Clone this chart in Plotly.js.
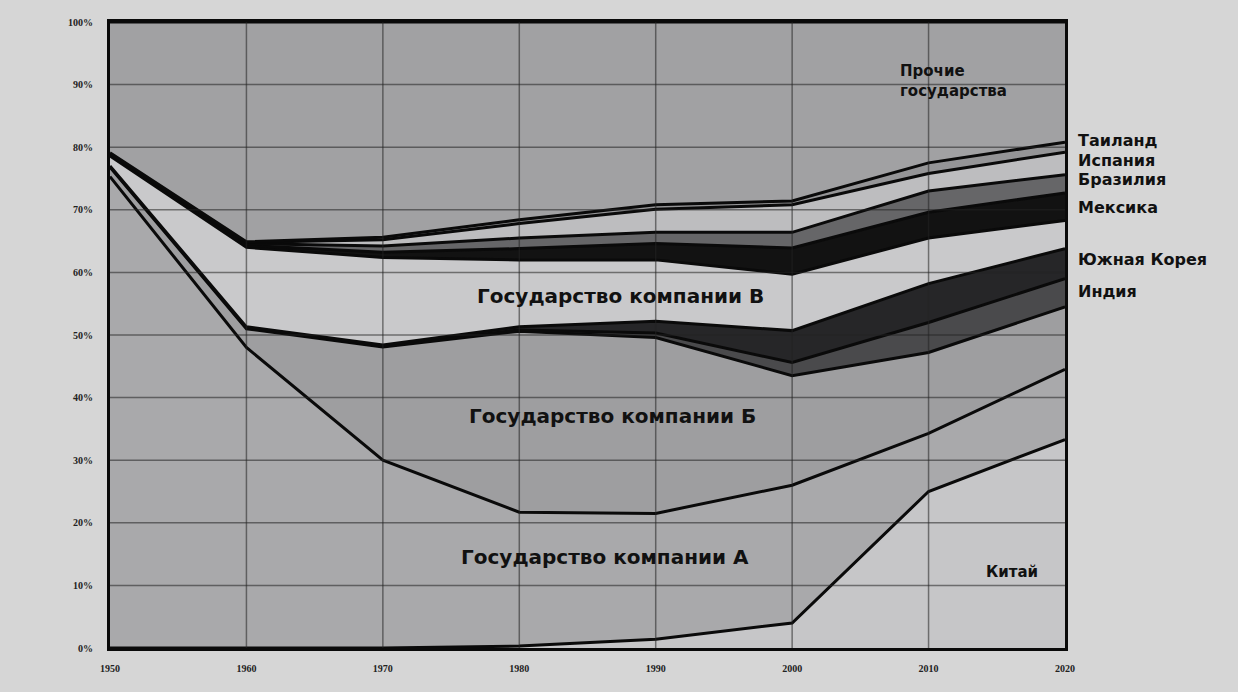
<!DOCTYPE html>
<html>
<head>
<meta charset="utf-8">
<script src="https://cdn.plot.ly/plotly-3.0.1.min.js"></script>
<style>
html,body{margin:0;padding:0;background:#d6d6d6;}
#chart{width:1238px;height:692px;}
</style>
</head>
<body>
<div id="chart"></div>
<script>
// Years (x axis)
const years = [1950, 1960, 1970, 1980, 1990, 2000, 2010, 2020];

// Shares (%) of each band, bottom to top
const china    = [0, 0, 0, 0.3, 1.4, 4.0, 25.0, 33.3];
const stateA   = [75.3, 48.0, 30.0, 21.4, 20.1, 22.0, 9.3, 11.2];
const stateB   = [1.5, 3.0, 18.1, 28.9, 28.1, 17.5, 12.9, 10.0];
const india    = [0.2, 0.2, 0.1, 0.2, 0.7, 2.1, 4.8, 4.5];
const korea    = [0, 0.1, 0.2, 0.5, 1.9, 5.1, 6.2, 4.8];
const stateV   = [1.6, 12.7, 14.0, 10.7, 9.8, 9.0, 7.3, 4.5];
const mexico   = [0.2, 0.3, 0.8, 1.8, 2.6, 4.2, 4.1, 4.4];
const brazil   = [0.1, 0.3, 1.0, 1.7, 1.8, 2.5, 3.4, 2.9];
const spain    = [0.1, 0.2, 1.0, 2.3, 3.7, 4.4, 2.8, 3.6];
const thailand = [0.1, 0.1, 0.4, 0.6, 0.7, 0.6, 1.7, 1.6];
const others   = [20.9, 35.1, 34.4, 31.6, 29.2, 28.6, 22.5, 19.2];

// Tick labels
const yTicks = [0, 10, 20, 30, 40, 50, 60, 70, 80, 90, 100];
const yTickText = ['0%', '10%', '20%', '30%', '40%', '50%', '60%', '70%', '80%', '90%', '100%'];
const xTickText = ['1950', '1960', '1970', '1980', '1990', '2000', '2010', '2020'];

const series = [
  {name: 'Китай', y: china, color: '#c6c6c8'},
  {name: 'Государство компании А', y: stateA, color: '#a9a9ab'},
  {name: 'Государство компании Б', y: stateB, color: '#9e9ea0'},
  {name: 'Индия', y: india, color: '#4a4a4c'},
  {name: 'Южная Корея', y: korea, color: '#262628'},
  {name: 'Государство компании В', y: stateV, color: '#c9c9cb'},
  {name: 'Мексика', y: mexico, color: '#121212'},
  {name: 'Бразилия', y: brazil, color: '#666668'},
  {name: 'Испания', y: spain, color: '#bdbdbf'},
  {name: 'Таиланд', y: thailand, color: '#959597'},
  {name: 'Прочие государства', y: others, color: '#a1a1a3'}
];

const traces = series.map(s => ({
  type: 'scatter',
  mode: 'lines',
  x: years,
  y: s.y,
  name: s.name,
  stackgroup: 'one',
  fillcolor: s.color,
  line: {color: '#0a0a0a', width: 3, shape: 'linear'},
  hoverinfo: 'skip'
}));

// gridlines drawn above the fills, positioned through the axis scales
const shapes = [];
years.slice(1, -1).forEach(v => shapes.push({
  type: 'line', xref: 'x', yref: 'paper', x0: v, x1: v, y0: 0, y1: 1,
  layer: 'above', line: {color: 'rgba(35,35,35,0.55)', width: 1.5}
}));
yTicks.slice(1, -1).forEach(v => shapes.push({
  type: 'line', xref: 'paper', yref: 'y', x0: 0, x1: 1, y0: v, y1: v,
  layer: 'above', line: {color: 'rgba(35,35,35,0.55)', width: 1.5}
}));

const bigFont = {family: 'DejaVu Sans, Verdana, sans-serif', size: 20, color: '#111'};
const midFont = {family: 'DejaVu Sans, Verdana, sans-serif', size: 15, color: '#111'};
const sideFont = {family: 'DejaVu Sans, Verdana, sans-serif', size: 16, color: '#111'};

const annotations = [
  {x: 1987.4, y: 56.3, xref: 'x', yref: 'y', text: '<b>Государство компании В</b>', showarrow: false, font: bigFont},
  {x: 1986.8, y: 37.0, xref: 'x', yref: 'y', text: '<b>Государство компании Б</b>', showarrow: false, font: bigFont},
  {x: 1986.3, y: 14.6, xref: 'x', yref: 'y', text: '<b>Государство компании А</b>', showarrow: false, font: bigFont},
  {x: 2016.1, y: 12.2, xref: 'x', yref: 'y', text: '<b>Китай</b>', showarrow: false, font: midFont},
  {x: 2011.8, y: 90.5, xref: 'x', yref: 'y', text: '<b>Прочие<br>государства</b>', showarrow: false, font: midFont, align: 'left'},
  {x: 1.012, y: 81.0, xref: 'paper', yref: 'y', xanchor: 'left', text: '<b>Таиланд</b>', showarrow: false, font: sideFont},
  {x: 1.012, y: 77.9, xref: 'paper', yref: 'y', xanchor: 'left', text: '<b>Испания</b>', showarrow: false, font: sideFont},
  {x: 1.012, y: 74.8, xref: 'paper', yref: 'y', xanchor: 'left', text: '<b>Бразилия</b>', showarrow: false, font: sideFont},
  {x: 1.012, y: 70.3, xref: 'paper', yref: 'y', xanchor: 'left', text: '<b>Мексика</b>', showarrow: false, font: sideFont},
  {x: 1.012, y: 62.0, xref: 'paper', yref: 'y', xanchor: 'left', text: '<b>Южная Корея</b>', showarrow: false, font: sideFont},
  {x: 1.012, y: 57.0, xref: 'paper', yref: 'y', xanchor: 'left', text: '<b>Индия</b>', showarrow: false, font: sideFont}
];

const tickFont = {family: 'Liberation Serif, DejaVu Serif, serif', size: 10, color: '#222'};

const layout = {
  width: 1238,
  height: 692,
  margin: {l: 110, r: 173, t: 22, b: 44},
  paper_bgcolor: '#d6d6d6',
  plot_bgcolor: '#a8a8aa',
  showlegend: false,
  xaxis: {
    range: [1950, 2020],
    tickvals: years,
    ticktext: xTickText.map(t => '<b>' + t + '</b>'),
    tickfont: tickFont,
    showgrid: false,
    zeroline: false,
    showline: true,
    mirror: true,
    linecolor: '#0a0a0a',
    linewidth: 3,
    ticks: '',
    ticklabelstandoff: 9,
    layer: 'above traces'
  },
  yaxis: {
    range: [0, 100],
    tickvals: yTicks,
    ticktext: yTickText.map(t => '<b>' + t + '</b>'),
    tickfont: tickFont,
    showgrid: false,
    zeroline: false,
    showline: true,
    mirror: true,
    linecolor: '#0a0a0a',
    linewidth: 3,
    ticks: '',
    ticklabelstandoff: 12,
    layer: 'above traces'
  },
  shapes: shapes,
  annotations: annotations
};

Plotly.newPlot('chart', traces, layout, {displayModeBar: false, staticPlot: true});
</script>
</body>
</html>
